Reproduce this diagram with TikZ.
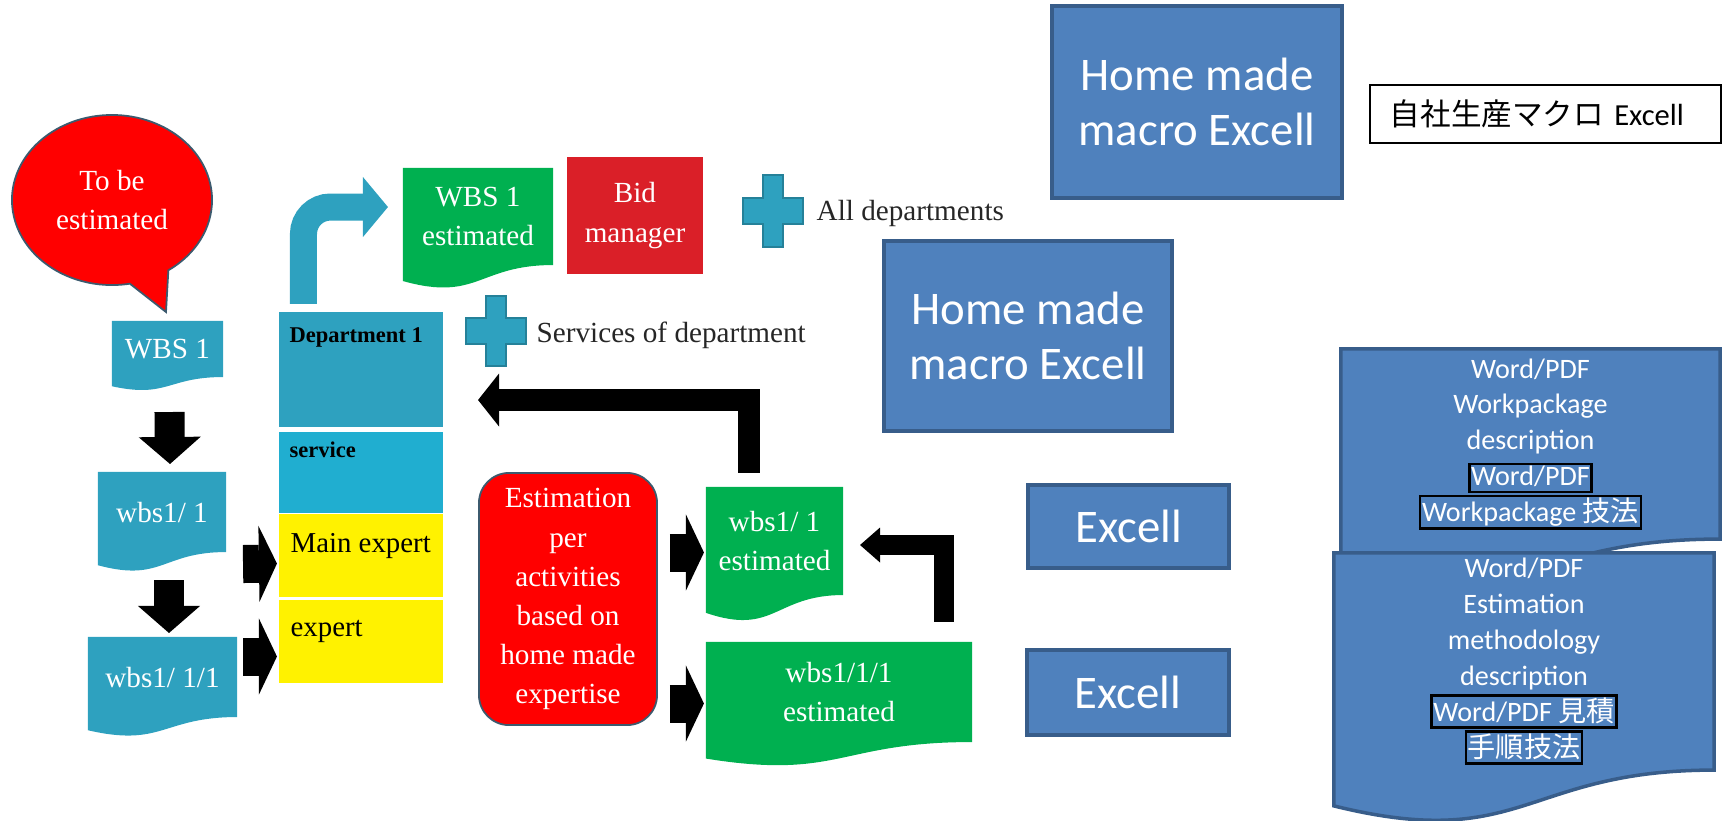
\documentclass[tikz,border=0pt]{standalone}
\usepackage{fontspec}
\setmainfont{Carlito}
\newfontfamily\cambria{Liberation Serif}
\newfontfamily\jp{Noto Sans CJK JP}
\usetikzlibrary{arrows.meta,calc,shapes.callouts,backgrounds,positioning}

\definecolor{wbsteal}{RGB}{46,161,191}
\definecolor{servcyan}{RGB}{32,174,208}
\definecolor{bubred}{RGB}{255,0,0}
\definecolor{bubedge}{RGB}{60,90,110}
\definecolor{bidred}{RGB}{218,31,40}
\definecolor{estgreen}{RGB}{0,176,80}
\definecolor{boxblue}{RGB}{79,129,189}
\definecolor{boxedge}{RGB}{56,93,138}

% document symbol (wavy bottom) drawn round a node
\newcommand{\docpath}[2]{%
  \path[#1] let \p1=(#2.north west), \p2=(#2.south east), \n1={\y1-\y2} in
    (\x1,\y1) -- (\x2,\y1) -- (\x2,\y2)
    .. controls ({(\x1+\x2)/2},\y2) and ({(\x1+\x2)/2},\y2-0.381*\n1) .. (\x1,\y2-0.165*\n1) -- cycle;}

% framed line of the translation
\newcommand{\jbox}[1]{{\setlength{\fboxsep}{0.2pt}\setlength{\fboxrule}{0.7pt}\fcolorbox{black}{boxblue}{\rule[-0.16em]{0pt}{0.78em}#1}}}

\begin{document}
\begin{tikzpicture}[x=0.01cm, y=-0.01cm]
	\tikzstyle{serif_white} = [font=\cambria\fontsize{8.3}{11.1}\selectfont, text=white, align=center]
	\tikzstyle{doc_wbs} = [rectangle, inner sep=0pt, outer sep=0pt, serif_white]
	\tikzstyle{doc_blue} = [rectangle, inner sep=0pt, outer sep=0pt, text=white, align=center, font=\fontsize{8}{10.2}\selectfont]
	\tikzstyle{box_dept} = [rectangle, inner sep=0pt, outer sep=0pt, minimum width=1.64cm]
	\tikzstyle{dept_label} = [inner sep=0pt, anchor=base west, font=\cambria\bfseries\fontsize{6.4}{7.7}\selectfont]
	\tikzstyle{expert_label} = [inner sep=0pt, anchor=base west, font=\cambria\fontsize{8.2}{10}\selectfont]
	\tikzstyle{side_label} = [inner sep=0pt, anchor=base west, text=black!85, font=\cambria\fontsize{8.3}{10}\selectfont]
	\tikzstyle{box_macro} = [rectangle, fill=boxblue, draw=boxedge, line width=1.2pt, text=white, align=center, font=\fontsize{13.3}{15.6}\selectfont]
	\tikzstyle{plus_sign} = [fill=wbsteal, draw=wbsteal!80!black, line width=0.4pt]
	\tikzstyle{arrow_down} = [black, line width=0.3cm, -{Triangle[width=0.62cm, length=0.27cm, line width=0pt]}]
	\tikzstyle{arrow_right} = [black, line width=0.38cm, -{Triangle[width=0.76cm, length=0.18cm, line width=0pt]}]
	\tikzstyle{arrow_back} = [black, line width=0.22cm, -{Triangle[width=0.53cm, length=0.21cm, line width=0pt]}]
	\tikzstyle{arrow_back_small} = [black, line width=0.2cm, -{Triangle[width=0.35cm, length=0.2cm, line width=0pt]}]
	\tikzstyle{arrow_turn} = [wbsteal, line width=0.27cm, rounded corners=0.27cm, -{Triangle[width=0.6cm, length=0.25cm, line width=0pt]}]

	\useasboundingbox (0,0) rectangle (1723,820);

%------------------------------------------------------------
	\node[ellipse callout, callout absolute pointer={(166,312)}, callout pointer arc=24, fill=bubred, draw=bubedge, line width=0.5pt, minimum width=2cm, minimum height=1.7cm, serif_white] (tobe) at (112,200) {To be\\estimated};

	\node[doc_wbs, minimum width=1.11cm, minimum height=0.56cm] (wbs1) at (167.5,349) {WBS 1};
	\node[doc_wbs, minimum width=1.28cm, minimum height=0.80cm] (wbs11) at (162,512) {wbs1/ 1};
	\node[doc_wbs, minimum width=1.49cm, minimum height=0.80cm] (wbs111) at (162.5,677) {wbs1/ 1/1};

	\draw[arrow_down] ($(wbs1.south)+(2,35)$) -- ($(wbs11.north)+(8,-8)$);
	\draw[arrow_down] ($(wbs11.south)+(7,28)$) -- ($(wbs111.north)+(6.5,-4)$);

%------------------------------------------------------------
	\node[box_dept, fill=wbsteal, minimum height=1.15cm] (dept) at (361,369.5) {};
	\node[box_dept, fill=servcyan, minimum height=0.81cm] (serv) at (361,472.5) {};
	\node[box_dept, fill=yellow, minimum height=0.83cm] (mainx) at (361,555.5) {};
	\node[box_dept, fill=yellow, minimum height=0.83cm] (expx) at (361,641.5) {};

	\node[dept_label] (dept_t) at ($(dept.north west)+(10,31)$) {Department 1};
	\node[dept_label] (serv_t) at ($(serv.north west)+(10,26)$) {service};
	\node[expert_label] (mainx_t) at ($(mainx.north west)+(11,39)$) {Main expert};
	\node[expert_label] (expx_t) at ($(expx.north west)+(11,37)$) {expert};

	\draw[arrow_right] ($(wbs11.east)+(17,52)$) -- ($(mainx.west)+(-2,8)$);
	\draw[arrow_right] ($(wbs111.east)+(6,-20.5)$) -- ($(expx.west)+(-2,15)$);

%------------------------------------------------------------
	\node[doc_wbs, minimum width=1.50cm, minimum height=0.97cm] (wbs1est) at (478,216.5) {WBS 1\\estimated};
	\node[rectangle, fill=bidred, minimum width=1.36cm, minimum height=1.17cm, serif_white] (bid) at (635,215.5) {Bid\\manager};

	\draw[arrow_turn] ($(dept.north west)+(24.5,-8)$) |- ($(wbs1est.west)+(-15,-9.5)$);

	\draw[plus_sign] (773,211) +(-10,-36) -- +(10,-36) -- +(10,-13) -- +(30,-13) -- +(30,13) -- +(10,13) -- +(10,36) -- +(-10,36) -- +(-10,13) -- +(-30,13) -- +(-30,-13) -- +(-10,-13) -- cycle;
	\node[side_label] (alldep) at (816,220) {All departments};
	\draw[plus_sign] (496,331) +(-10,-35) -- +(10,-35) -- +(10,-13) -- +(30,-13) -- +(30,13) -- +(10,13) -- +(10,35) -- +(-10,35) -- +(-10,13) -- +(-30,13) -- +(-30,-13) -- +(-10,-13) -- cycle;
	\node[side_label] (servdep) at (536,342) {Services of department};

%------------------------------------------------------------
	\node[rectangle, rounded corners=0.3cm, fill=bubred, draw=bubedge, line width=0.5pt, minimum width=1.78cm, minimum height=2.52cm, serif_white] (estim) at (568,599) {Estimation\\per\\activities\\based on\\home made\\expertise};

	\node[doc_wbs, minimum width=1.37cm, minimum height=1.08cm] (wbs11est) at (774.5,541) {wbs1/ 1\\estimated};
	\node[doc_wbs, minimum width=2.66cm, minimum height=1.00cm] (wbs111est) at (839,692) {wbs1/1/1\\estimated};

	\draw[arrow_right] ($(estim.east)+(12,-46.5)$) -- ($(wbs11est.west)+(-2,11.5)$);
	\draw[arrow_right] ($(estim.east)+(12,104.5)$) -- ($(wbs111est.west)+(-2,11.5)$);

	\draw[arrow_back] ($(wbs11est.north)+(-25.5,-14)$) |- ($(dept.east)+(35,30.5)$);
	\draw[arrow_back_small] ($(wbs111est.north)+(105,-20)$) |- ($(wbs11est.east)+(17,4)$);

%------------------------------------------------------------
	\node[box_macro, minimum width=2.90cm, minimum height=1.92cm] (macro1) at (1197,102) {Home made\\macro Excell};
	\node[rectangle, draw=black, line width=0.6pt, minimum width=3.51cm, minimum height=0.58cm, text width=3.11cm, align=left, font=\fontsize{8.7}{10}\selectfont] (jpmacro) at (1545.5,114) {{\jp 自社生産マクロ} Excell};
	\node[box_macro, minimum width=2.88cm, minimum height=1.90cm] (macro2) at (1028,336) {Home made\\macro Excell};
	\node[box_macro, minimum width=2.01cm, minimum height=0.83cm] (excell1) at (1128.5,526.5) {Excell};
	\node[box_macro, minimum width=2.02cm, minimum height=0.85cm] (excell2) at (1128,692.5) {Excell};

	\node[doc_blue, minimum width=3.79cm, minimum height=1.90cm] (wpdesc) at (1530.5,444) {Word/PDF\\Workpackage\\description\\\jbox{Word/PDF}\\\jbox{Workpackage {\jp 技法}}};
	\node[doc_blue, minimum width=3.80cm, minimum height=2.17cm] (emdesc) at (1524,661.5) {Word/PDF\\Estimation\\methodology\\description\\\jbox{Word/PDF {\jp 見積}}\\\jbox{\jp 手順技法}};

%------------------------------------------------------------
	\begin{pgfonlayer}{background}
		\docpath{fill=wbsteal}{wbs1}
		\docpath{fill=wbsteal}{wbs11}
		\docpath{fill=wbsteal}{wbs111}
		\docpath{fill=estgreen}{wbs1est}
		\docpath{fill=estgreen}{wbs11est}
		\docpath{fill=estgreen}{wbs111est}
		\docpath{fill=boxblue, draw=boxedge, line width=1pt}{wpdesc}
		\docpath{fill=boxblue, draw=boxedge, line width=1pt}{emdesc}
	\end{pgfonlayer}

\end{tikzpicture}
\end{document}
